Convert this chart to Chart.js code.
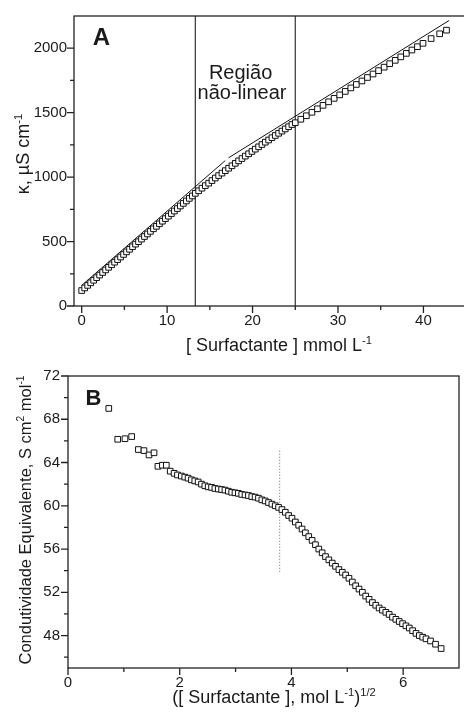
<!DOCTYPE html>
<html>
<head>
<meta charset="utf-8">
<script src="https://cdn.jsdelivr.net/npm/chart.js@4.4.1/dist/chart.umd.min.js"></script>
<style>
    html, body { margin: 0; padding: 0; background: #fff; overflow: hidden; }
    #wrapA { position: absolute; left: 0; top: 0; width: 472px; height: 355px; }
    #wrapB { position: absolute; left: 0; top: 355px; width: 464px; height: 362px; }
</style>
</head>
<body>
<div id="wrapA"><canvas id="chartA"></canvas></div>
<div id="wrapB"><canvas id="chartB"></canvas></div>
<script>
// --- painel A: condutividade especifica vs concentracao (mmol/L)
const concA = [0.00, 0.35, 0.70, 1.05, 1.40, 1.75, 2.10, 2.45, 2.80, 3.15, 3.50, 3.85, 4.20, 4.55, 4.90, 5.25, 5.60, 5.95, 6.30, 6.65,
    7.00, 7.35, 7.70, 8.05, 8.40, 8.75, 9.10, 9.45, 9.80, 10.15, 10.50, 10.85, 11.20, 11.55, 11.90, 12.25, 12.60, 12.95, 13.30,
    13.69, 14.08, 14.47, 14.86, 15.25, 15.64, 16.03, 16.42, 16.81, 17.20, 17.59, 17.98, 18.37, 18.76, 19.15, 19.54, 19.93, 20.32,
    20.71, 21.10, 21.49, 21.88, 22.27, 22.66, 23.05, 23.44, 23.83, 24.22, 24.61, 25.00,
    25.65, 26.30, 26.95, 27.60, 28.25, 28.90, 29.55, 30.20, 30.85, 31.50, 32.15, 32.80, 33.45, 34.10, 34.75, 35.40, 36.05,
    36.70, 37.35, 38.00, 38.65, 39.30, 39.95, 40.90, 41.90, 42.70];
const kappaA = [120, 140, 160, 180, 200, 220, 240, 260, 280, 300, 320, 340, 360, 380, 400, 420, 440, 460, 480, 499,
    519, 539, 559, 579, 599, 618, 638, 658, 678, 697, 717, 737, 756, 776, 796, 815, 835, 854, 874,
    894, 914, 934, 953, 973, 993, 1012, 1031, 1050, 1069, 1088, 1107, 1126, 1144, 1163, 1181, 1199, 1217,
    1235, 1253, 1271, 1288, 1306, 1323, 1340, 1357, 1374, 1391, 1408, 1422,
    1449, 1476, 1503, 1530, 1557, 1584, 1611, 1638, 1665, 1692, 1719, 1746, 1773, 1800, 1826, 1853, 1880,
    1906, 1933, 1960, 1986, 2012, 2038, 2075, 2112, 2140];
const fit1X = [0, 16.8], fit1Y = [160, 1128];
const fit2X = [17.2, 43.0], fit2Y = [1150, 2215];
const limitsA = [13.3, 25.0];
const ticksAX = [0, 10, 20, 30, 40], minorAX = [5, 15, 25, 35];
const ticksAY = [0, 500, 1000, 1500, 2000], minorAY = [250, 750, 1250, 1750];

// --- painel B: condutividade equivalente vs raiz da concentracao
const sqrtB = [0.73, 0.89, 1.02, 1.14, 1.26, 1.36, 1.45, 1.54, 1.61, 1.69,
    1.76, 1.83, 1.90, 1.96, 2.03, 2.09, 2.15, 2.21, 2.27, 2.33,
    2.39, 2.45, 2.51, 2.57, 2.63, 2.69, 2.75, 2.81, 2.87, 2.93,
    2.99, 3.05, 3.11, 3.17, 3.23, 3.29, 3.35, 3.41, 3.47, 3.53,
    3.59, 3.65, 3.71, 3.77, 3.83, 3.89, 3.95, 4.01, 4.07, 4.13,
    4.19, 4.25, 4.31, 4.37, 4.43, 4.49, 4.55, 4.61, 4.67, 4.73,
    4.79, 4.85, 4.91, 4.97, 5.03, 5.09, 5.15, 5.21, 5.27, 5.33,
    5.39, 5.45, 5.51, 5.57, 5.63, 5.69, 5.75, 5.81, 5.87, 5.93,
    5.99, 6.05, 6.11, 6.17, 6.23, 6.29, 6.35, 6.41, 6.49, 6.58,
    6.68];
const lambdaB = [69.0, 66.15, 66.2, 66.4, 65.2, 65.1, 64.7, 64.9, 63.65, 63.75,
    63.75, 63.2, 63.0, 62.85, 62.75, 62.65, 62.55, 62.4, 62.3, 62.2,
    62.0, 61.85, 61.75, 61.7, 61.6, 61.55, 61.5, 61.45, 61.35, 61.25,
    61.2, 61.15, 61.05, 61.0, 60.95, 60.85, 60.8, 60.7, 60.55, 60.45,
    60.3, 60.15, 60.0, 59.85, 59.65, 59.4, 59.1, 58.85, 58.5, 58.2,
    57.85, 57.5, 57.15, 56.8, 56.4, 56.0, 55.65, 55.3, 55.0, 54.7,
    54.4, 54.1, 53.85, 53.6, 53.3, 52.95, 52.6, 52.3, 52.0, 51.65,
    51.35, 51.05, 50.8, 50.55, 50.35, 50.15, 49.95, 49.7, 49.5, 49.3,
    49.1, 48.9, 48.7, 48.45, 48.2, 48.0, 47.85, 47.7, 47.5, 47.2,
    46.8];
const cmcX = 3.79, cmcY = [53.9, 65.1];
const ticksBX = [0, 2, 4, 6], minorBX = [1, 3, 5];
const ticksBY = [48, 52, 56, 60, 64, 68, 72], minorBY = [46, 50, 54, 58, 62, 66, 70];

const FONT = "'Liberation Sans', Arial, sans-serif";
Chart.defaults.font.family = FONT;
Chart.defaults.color = '#1a1a1a';
Chart.defaults.animation = false;

const pts = (xs, ys) => xs.map((v, i) => ({x: v, y: ys[i]}));

// texto com sobrescritos (eixos)
function drawRich(ctx, segs, x, y, size, rotate) {
    const sup = size * 0.62;
    ctx.save();
    ctx.translate(x, y);
    if (rotate) ctx.rotate(-Math.PI / 2);
    let w = 0;
    segs.forEach(s => {
        ctx.font = (s.sup ? sup : size) + 'px ' + FONT;
        w += ctx.measureText(s.t).width;
    });
    let cx = -w / 2;
    ctx.fillStyle = '#1a1a1a';
    ctx.textAlign = 'left';
    ctx.textBaseline = 'alphabetic';
    segs.forEach(s => {
        ctx.font = (s.sup ? sup : size) + 'px ' + FONT;
        ctx.fillText(s.t, cx, size * 0.36 - (s.sup ? size * 0.42 : 0));
        cx += ctx.measureText(s.t).width;
    });
    ctx.restore();
}

const framePlugin = {
    id: 'frameTicks',
    afterDatasetsDraw(chart, args, o) {
        const {ctx, chartArea: a, scales: {x, y}} = chart;
        ctx.save();
        ctx.strokeStyle = '#222';
        ctx.lineWidth = 1.3;
        ctx.strokeRect(a.left, a.top, a.right - a.left, a.bottom - a.top);
        ctx.beginPath();
        o.xMajor.forEach(v => { const p = x.getPixelForValue(v); ctx.moveTo(p, a.bottom); ctx.lineTo(p, a.bottom + 7); });
        o.xMinor.forEach(v => { const p = x.getPixelForValue(v); ctx.moveTo(p, a.bottom); ctx.lineTo(p, a.bottom + 4); });
        o.yMajor.forEach(v => { const p = y.getPixelForValue(v); ctx.moveTo(a.left, p); ctx.lineTo(a.left - 7, p); });
        o.yMinor.forEach(v => { const p = y.getPixelForValue(v); ctx.moveTo(a.left, p); ctx.lineTo(a.left - 4, p); });
        ctx.stroke();
        ctx.restore();
    },
    afterDraw(chart, args, o) {
        const {ctx, scales: {x, y}} = chart;
        o.notes.forEach(n => {
            ctx.save();
            ctx.font = (n.bold ? 'bold ' : '') + n.size + 'px ' + FONT;
            ctx.fillStyle = '#1a1a1a';
            ctx.textAlign = 'center';
            ctx.textBaseline = 'middle';
            ctx.fillText(n.t, x.getPixelForValue(n.x), y.getPixelForValue(n.y));
            ctx.restore();
        });
        o.titles.forEach(t => drawRich(ctx, t.segs, t.px, t.py, t.size, t.rotate));
    }
};

function axis(min, max, ticks, fit, pad) {
    return {
        type: 'linear', min: min, max: max,
        grid: {display: false, drawTicks: false}, border: {display: false},
        ticks: {font: {size: 15}, padding: pad, maxRotation: 0, autoSkip: false, callback: v => String(v)},
        afterBuildTicks: s => { s.ticks = ticks.map(v => ({value: v})); },
        afterFit: fit
    };
}

const squares = (data) => ({
    data: data, showLine: false, pointStyle: 'rect', pointRadius: 4, pointHoverRadius: 4,
    borderColor: '#111', backgroundColor: '#fff', borderWidth: 1, order: 0
});
const line = (data, color, width, dash) => ({
    data: data, showLine: true, pointRadius: 0, borderColor: color, borderWidth: width,
    borderDash: dash || [], fill: false, order: 1
});

new Chart(document.getElementById('chartA'), {
    type: 'scatter',
    plugins: [framePlugin],
    data: {
        datasets: [
            squares(pts(concA, kappaA)),
            line(pts(fit1X, fit1Y), '#111', 1),
            line(pts(fit2X, fit2Y), '#111', 1),
            line(pts([limitsA[0], limitsA[0]], [0, 2250]), '#333', 1.2),
            line(pts([limitsA[1], limitsA[1]], [0, 2250]), '#333', 1.2)
        ]
    },
    options: {
        responsive: true, maintainAspectRatio: false,
        layout: {padding: {top: 14, right: 4, bottom: 0, left: 0}},
        plugins: {
            legend: {display: false}, tooltip: {enabled: false},
            frameTicks: {
                xMajor: ticksAX, xMinor: minorAX, yMajor: ticksAY, yMinor: minorAY,
                notes: [
                    {t: 'A', x: 2.3, y: 2077, size: 24, bold: true},
                    {t: 'Região', x: 18.6, y: 1807, size: 20},
                    {t: 'não-linear', x: 18.77, y: 1649, size: 20}
                ],
                titles: [
                    {segs: [{t: '[ Surfactante ] mmol L'}, {t: '-1', sup: true}], px: 279, py: 345, size: 18},
                    {segs: [{t: 'κ, µS cm'}, {t: '-1', sup: true}], px: 23, py: 154, size: 18, rotate: true}
                ]
            }
        },
        scales: {
            x: axis(-0.9, 45.1, ticksAX, s => { s.height = 49; }, 6),
            y: axis(0, 2250, ticksAY, s => { s.width = 74; }, 7)
        }
    }
});

new Chart(document.getElementById('chartB'), {
    type: 'scatter',
    plugins: [framePlugin],
    data: {
        datasets: [
            squares(pts(sqrtB, lambdaB)),
            line(pts([cmcX, cmcX], cmcY), '#666', 1, [1, 2])
        ]
    },
    options: {
        responsive: true, maintainAspectRatio: false,
        layout: {padding: {top: 21, right: 3, bottom: 0, left: 0}},
        plugins: {
            legend: {display: false}, tooltip: {enabled: false},
            frameTicks: {
                xMajor: ticksBX, xMinor: minorBX, yMajor: ticksBY, yMinor: minorBY,
                notes: [
                    {t: 'B', x: 0.455, y: 69.87, size: 22, bold: true}
                ],
                titles: [
                    {segs: [{t: '([ Surfactante ], mol L'}, {t: '-1', sup: true}, {t: ')'}, {t: '1/2', sup: true}], px: 274, py: 342, size: 18},
                    {segs: [{t: 'Condutividade Equivalente, S cm'}, {t: '2', sup: true}, {t: ' mol'}, {t: '-1', sup: true}], px: 25, py: 165, size: 16.5, rotate: true}
                ]
            }
        },
        scales: {
            x: axis(0, 7, ticksBX, s => { s.height = 49; }, 6),
            y: axis(45, 72, ticksBY, s => { s.width = 68; }, 8)
        }
    }
});
</script>
</body>
</html>
